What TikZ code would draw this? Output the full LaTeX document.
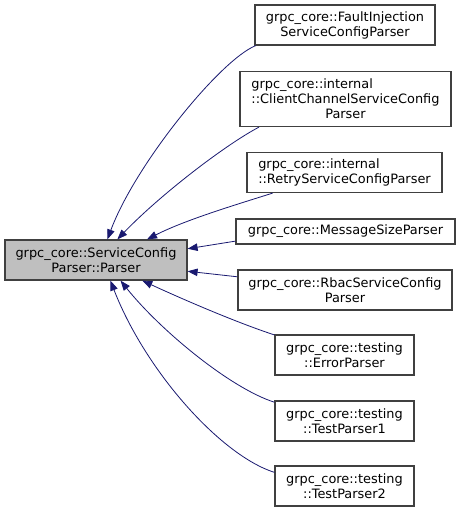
\documentclass[tikz,border=0pt]{standalone}
\usepackage{fontspec}
\setmainfont{DejaVu Sans}
\usepackage{calc}
\usetikzlibrary{arrows.meta}
\definecolor{edgeblue}{HTML}{191970}
\definecolor{basegray}{HTML}{BFBFBF}
\newcommand{\leftpart}[2]{\makebox[\widthof{#2}][l]{#1}}
\begin{document}
\begin{tikzpicture}[x=1pt, y=-1pt,
  box/.style={draw=black!75, line width=1.2pt, inner sep=0pt, align=center,
    font=\fontsize{12.9}{15}\selectfont},
  edge/.style={draw=edgeblue, line width=0.8pt, -{Triangle[length=10pt, width=7.5pt]}}]
\useasboundingbox (0,0) rectangle (460,512);
\node[box, fill=basegray, minimum width=182, minimum height=40] (base) at (96,260) {grpc\_core::ServiceConfig\\Parser::Parser};
\node[box, minimum width=180, minimum height=40] (fault) at (345,25) {grpc\_core::FaultInjection\\ServiceConfigParser};
\node[box, minimum width=211, minimum height=55] (client) at (345.5,99) {\leftpart{grpc\_core::internal}{::ClientChannelServiceConfig}\\::ClientChannelServiceConfig\\Parser};
\node[box, minimum width=195, minimum height=40] (retry) at (344.5,172.5) {\leftpart{grpc\_core::internal}{::RetryServiceConfigParser}\\::RetryServiceConfigParser};
\node[box, minimum width=219, minimum height=25] (msize) at (345.5,231.5) {grpc\_core::MessageSizeParser};
\node[box, minimum width=214, minimum height=40] (rbac) at (345,290) {grpc\_core::RbacServiceConfig\\Parser};
\node[box, minimum width=139, minimum height=40] (error) at (344.5,355) {grpc\_core::testing\\::ErrorParser};
\node[box, minimum width=139, minimum height=40] (test1) at (344.5,421) {grpc\_core::testing\\::TestParser1};
\node[box, minimum width=139, minimum height=40] (test2) at (344.5,486) {grpc\_core::testing\\::TestParser2};
% inheritance arrows
\draw[edge] (fault.-167) .. controls (220,60) and (135,165) .. (base.61);
\draw[edge] (client.198) .. controls (225,145) and (160,195) .. (base.44);
\draw[edge] (retry.196) .. controls (235,205) and (185,220) .. (base.22);
\draw[edge] (msize.185) -- (base.7.5);
\draw[edge] (rbac.173) -- (base.-7.5);
\draw[edge] (error.164) .. controls (235,322) and (180,298) .. (base.-24);
\draw[edge] (test1.165) .. controls (230,388) and (160,330) .. (base.-40);
\draw[edge] (test2.169) .. controls (220,455) and (145,370) .. (base.-55);
\end{tikzpicture}
\end{document}
